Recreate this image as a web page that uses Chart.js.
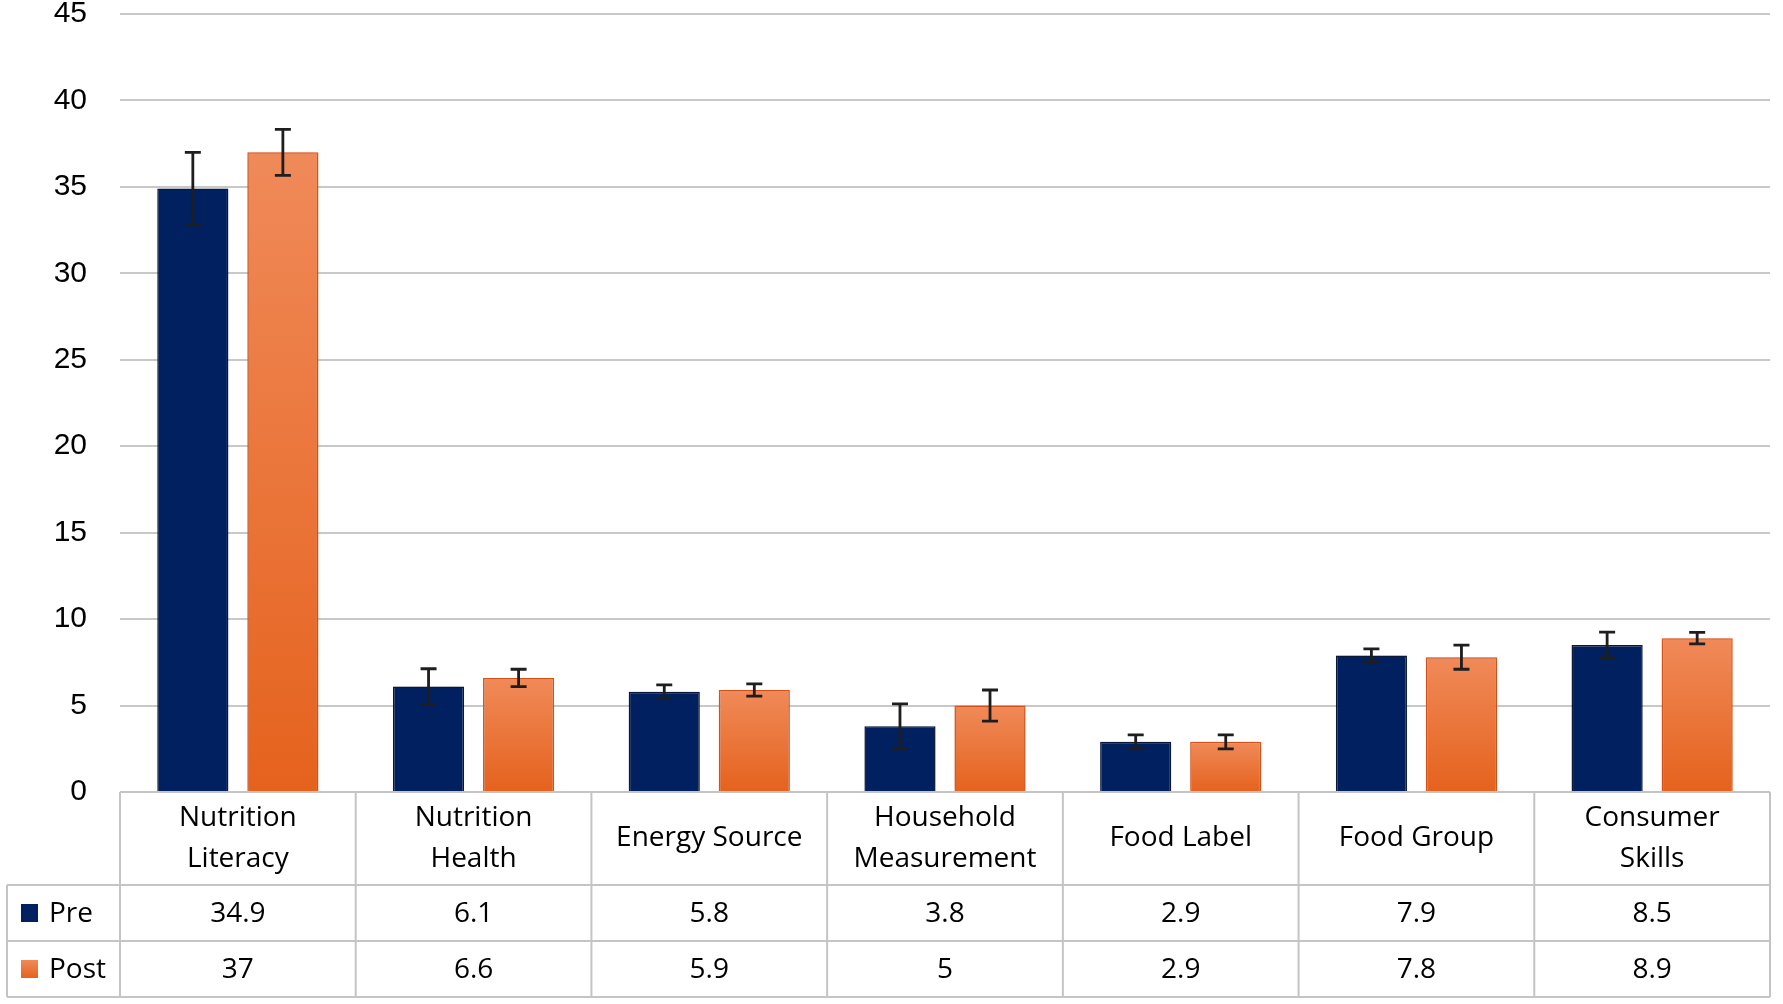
<!DOCTYPE html>
<html>
<head>
<meta charset="utf-8">
<script src="https://cdn.jsdelivr.net/npm/chart.js@4.4.1/dist/chart.umd.min.js"></script>
<style>
  html, body { margin: 0; padding: 0; background: #ffffff; }
  #wrap { width: 1783px; height: 1004px; position: relative; }
</style>
</head>
<body>
<div id="wrap"><canvas id="c"></canvas></div>
<script>
// ---- data ----
const categories = [
  ["Nutrition", "Literacy"],
  ["Nutrition", "Health"],
  ["Energy Source"],
  ["Household", "Measurement"],
  ["Food Label"],
  ["Food Group"],
  ["Consumer", "Skills"]
];
const seriesNames = ["Pre", "Post"];
const preValues  = [34.9, 6.1, 5.8, 3.8, 2.9, 7.9, 8.5];
const postValues = [37, 6.6, 5.9, 5, 2.9, 7.8, 8.9];
const preErrors  = [2.1, 1.03, 0.4, 1.3, 0.4, 0.38, 0.75];
const postErrors = [1.33, 0.5, 0.35, 0.9, 0.4, 0.7, 0.33];
const preLabels  = ["34.9", "6.1", "5.8", "3.8", "2.9", "7.9", "8.5"];
const postLabels = ["37", "6.6", "5.9", "5", "2.9", "7.8", "8.9"];
const yMin = 0, yMax = 45, yStep = 5;

// ---- styles ----
const PRE_COLOR = "#002060";
const POST_TOP = "#F08A59";
const POST_BOTTOM = "#E5621D";
const TABLE_FONT = "28px 'Open Sans', sans-serif";
const LINE_COLOR = "#c4c4c4";

function postGradient(ctx) {
  const chart = ctx.chart;
  const y = chart.scales && chart.scales.y;
  if (!y || ctx.dataIndex === undefined) return POST_BOTTOM;
  const top = y.getPixelForValue(postValues[ctx.dataIndex]);
  const bottom = y.getPixelForValue(0);
  if (!isFinite(top) || !isFinite(bottom) || top === bottom) return POST_BOTTOM;
  const g = chart.ctx.createLinearGradient(0, top, 0, bottom);
  g.addColorStop(0, POST_TOP);
  g.addColorStop(1, POST_BOTTOM);
  return g;
}

const errorBars = {
  id: "errorBars",
  afterDatasetsDraw(chart) {
    const ctx = chart.ctx;
    const y = chart.scales.y;
    const errs = [preErrors, postErrors];
    const vals = [preValues, postValues];
    ctx.save();
    ctx.strokeStyle = "#1e1e1e";
    ctx.lineWidth = 2.8;
    chart.data.datasets.forEach((ds, di) => {
      const meta = chart.getDatasetMeta(di);
      meta.data.forEach((bar, i) => {
        const x = bar.x;
        const hi = y.getPixelForValue(vals[di][i] + errs[di][i]);
        const lo = y.getPixelForValue(vals[di][i] - errs[di][i]);
        ctx.beginPath();
        ctx.moveTo(x, hi); ctx.lineTo(x, lo);
        ctx.moveTo(x - 8, hi); ctx.lineTo(x + 8, hi);
        ctx.moveTo(x - 8, lo); ctx.lineTo(x + 8, lo);
        ctx.stroke();
      });
    });
    ctx.restore();
  }
};

const barShadow = {
  id: "barShadow",
  beforeDatasetsDraw(chart) {
    const ctx = chart.ctx;
    ctx.save();
    ctx.shadowColor = "rgba(0,0,0,0.22)";
    ctx.shadowBlur = 7;
    ctx.shadowOffsetX = 0;
    ctx.shadowOffsetY = 0;
  },
  afterDatasetsDraw(chart) {
    chart.ctx.restore();
  }
};

const dataTable = {
  id: "dataTable",
  afterDraw(chart) {
    const ctx = chart.ctx;
    const area = chart.chartArea;
    const n = categories.length;
    const colW = (area.right - area.left) / n;
    const top = area.bottom;
    const r1 = top + 93, r2 = r1 + 56, r3 = r2 + 56;
    const legLeft = 7;
    ctx.save();
    ctx.strokeStyle = LINE_COLOR;
    ctx.lineWidth = 2;
    ctx.beginPath();
    ctx.moveTo(area.left, top); ctx.lineTo(area.right, top);
    ctx.moveTo(legLeft, r1); ctx.lineTo(area.right, r1);
    ctx.moveTo(legLeft, r2); ctx.lineTo(area.right, r2);
    ctx.moveTo(legLeft, r3); ctx.lineTo(area.right, r3);
    ctx.moveTo(legLeft, r1); ctx.lineTo(legLeft, r3);
    for (let i = 0; i <= n; i++) {
      const x = area.left + i * colW;
      ctx.moveTo(x, top); ctx.lineTo(x, r3);
    }
    ctx.stroke();

    ctx.fillStyle = "#000000";
    ctx.font = TABLE_FONT;
    ctx.textAlign = "center";
    ctx.textBaseline = "middle";
    const xs = chart.scales.x;
    const midCat = (top + r1) / 2;
    categories.forEach((lines, i) => {
      const cx = xs.getPixelForValue(i);
      const lh = 41;
      const start = midCat - (lines.length - 1) * lh / 2;
      lines.forEach((t, k) => ctx.fillText(t, cx, start + k * lh));
      ctx.fillText(preLabels[i], cx, (r1 + r2) / 2 + 1);
      ctx.fillText(postLabels[i], cx, (r2 + r3) / 2 + 1);
    });
    ctx.textAlign = "left";
    const rowsMid = [(r1 + r2) / 2, (r2 + r3) / 2];
    rowsMid.forEach((my, k) => {
      if (k === 0) {
        ctx.fillStyle = PRE_COLOR;
      } else {
        const g = ctx.createLinearGradient(0, my - 9, 0, my + 9);
        g.addColorStop(0, POST_TOP); g.addColorStop(1, POST_BOTTOM);
        ctx.fillStyle = g;
      }
      ctx.fillRect(21, my - 9, 17, 18);
      ctx.fillStyle = "#000000";
      ctx.fillText(seriesNames[k], 49, my + 1);
    });
    ctx.restore();
  }
};

new Chart(document.getElementById("c"), {
  type: "bar",
  data: {
    labels: categories.map(l => l.join(" ")),
    datasets: [
      {
        label: seriesNames[0],
        data: preValues,
        backgroundColor: PRE_COLOR,
        borderColor: "#0c1a3e",
        borderWidth: 1.5,
        categoryPercentage: 0.764,
        barPercentage: 0.79
      },
      {
        label: seriesNames[1],
        data: postValues,
        backgroundColor: postGradient,
        borderColor: "#E8581A",
        borderWidth: 1.5,
        categoryPercentage: 0.764,
        barPercentage: 0.79
      }
    ]
  },
  options: {
    responsive: true,
    maintainAspectRatio: false,
    animation: false,
    devicePixelRatio: 1,
    layout: { padding: { top: 14, right: 13, bottom: 212, left: 0 } },
    plugins: {
      legend: { display: false },
      tooltip: { enabled: false },
      title: { display: false }
    },
    scales: {
      x: {
        display: false,
        offset: true
      },
      y: {
        min: yMin,
        max: yMax,
        border: { display: false },
        grid: {
          color: "#c8c8c8",
          lineWidth: 2,
          drawTicks: true,
          tickLength: 33,
          tickColor: "rgba(0,0,0,0)"
        },
        ticks: {
          stepSize: yStep,
          padding: 0,
          color: "#000000",
          font: { family: "'Liberation Sans', Arial, sans-serif", size: 30, lineHeight: 0.9 }
        },
        afterFit(scale) { scale.width = 120; }
      }
    }
  },
  plugins: [barShadow, errorBars, dataTable]
});
</script>
</body>
</html>
